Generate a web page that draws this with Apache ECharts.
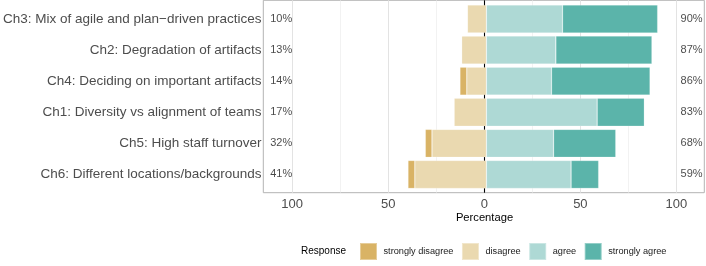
<!DOCTYPE html>
<html>
<head>
<meta charset="utf-8">
<script src="https://cdn.jsdelivr.net/npm/echarts@6/dist/echarts.min.js"></script>
<style>html,body{margin:0;padding:0;background:#fff;}#c{width:706px;height:266px;}</style>
</head>
<body>
<div id="c"></div>
<script>
const categories = [
  'Ch3: Mix of agile and plan\u2212driven practices',
  'Ch2: Degradation of artifacts',
  'Ch4: Deciding on important artifacts',
  'Ch1: Diversity vs alignment of teams',
  'Ch5: High staff turnover',
  'Ch6: Different locations/backgrounds'
];
const stronglyDisagree = [0, 0, 3.6, 0, 3.5, 3.6];
const disagree = [10, 13, 10.3, 17, 28.6, 37.6];
const agree = [40, 36.5, 34.2, 58.2, 35.3, 44.5];
const stronglyAgree = [50, 50.5, 51.8, 24.8, 32.7, 14.5];
const leftPct = ['10%', '13%', '14%', '17%', '32%', '41%'];
const rightPct = ['90%', '87%', '86%', '83%', '68%', '59%'];
const xTickLabels = [-100, -50, 0, 50, 100];
const xMinorTicks = [-75, -25, 25, 75];
const legendNames = ['strongly disagree', 'disagree', 'agree', 'strongly agree'];

const colors = {
  'strongly disagree': '#d9b365',
  'disagree': '#ead9b0',
  'agree': '#aed9d5',
  'strongly agree': '#5bb4aa'
};
const FONT = 'Liberation Sans, Arial, Helvetica, sans-serif';
const XMIN = -115, XMAX = 114.5;
const LEFT = 263.3, WIDTH = 441;

const chart = echarts.init(document.getElementById('c'), null, {renderer: 'canvas'});

function barSeries(name, vals, sign) {
  return {
    name: name, type: 'bar', stack: 'total', xAxisIndex: 1, yAxisIndex: 1,
    barWidth: '90%', z: 5,
    itemStyle: {color: colors[name], borderColor: 'rgba(255,255,255,0.35)', borderWidth: 0.6},
    emphasis: {disabled: true},
    data: vals.map(v => sign * v)
  };
}

const option = {
  animation: false,
  textStyle: {fontFamily: FONT},
  grid: [
    {left: LEFT, top: 0.3, width: WIDTH, height: 192.4, show: true, borderColor: '#b3b3b3', borderWidth: 1, backgroundColor: 'transparent', z: 0},
    {left: LEFT, top: 3.4, width: WIDTH, height: 186.6}
  ],
  xAxis: [
    {type: 'value', gridIndex: 0, min: XMIN, max: XMAX,
     axisLine: {show: false}, axisTick: {show: false}, splitLine: {show: false},
     axisLabel: {show: true, customValues: xTickLabels, margin: 5, fontSize: 13, color: '#4d4d4d', fontFamily: FONT,
       formatter: v => String(Math.abs(v))}},
    {type: 'value', gridIndex: 1, min: XMIN, max: XMAX, show: false}
  ],
  yAxis: [
    {type: 'value', gridIndex: 0, min: 0, max: 1, show: false},
    {type: 'category', gridIndex: 1, data: categories, inverse: true,
     axisLine: {show: false}, axisTick: {show: false}, splitLine: {show: false},
     axisLabel: {margin: 6, fontSize: 13.5, color: '#4d4d4d', fontFamily: FONT}}
  ],
  legend: {
    data: legendNames, left: 359, top: 242, orient: 'horizontal', padding: 0,
    itemWidth: 17, itemHeight: 17, itemGap: 7.5, icon: 'rect',
    textStyle: {fontSize: 9.2, color: '#1a1a1a', fontFamily: FONT, padding: [0, 0, 0, 1.5]},
    selectedMode: false
  },
  graphic: [
    {type: 'text', x: 484.5, y: 218.3, style: {text: 'Percentage', fontSize: 11.2, fill: '#000', fontFamily: FONT, align: 'center', verticalAlign: 'middle'}},
    {type: 'text', x: 301, y: 251, style: {text: 'Response', fontSize: 10, fill: '#000', fontFamily: FONT, align: 'left', verticalAlign: 'middle'}}
  ],
  series: [
    {type: 'line', xAxisIndex: 0, yAxisIndex: 0, data: [[0, -5]], showSymbol: false, silent: true, z: 1,
     markLine: {silent: true, symbol: 'none', animation: false, label: {show: false}, z: 1,
       data: [
         ...xMinorTicks.map(v => ({xAxis: v, lineStyle: {color: '#ececec', width: 0.7, type: 'solid'}})),
         ...xTickLabels.filter(v => v !== 0).map(v => ({xAxis: v, lineStyle: {color: '#e3e3e3', width: 1, type: 'solid'}}))
       ]}},
    {type: 'line', xAxisIndex: 0, yAxisIndex: 0, data: [[0, -5]], showSymbol: false, silent: true, z: 2,
     markLine: {silent: true, symbol: 'none', animation: false, label: {show: false}, z: 2,
       data: [{xAxis: 0, lineStyle: {color: '#000', width: 1.1, type: 'solid'}}]}},
    barSeries('disagree', disagree, -1),
    barSeries('strongly disagree', stronglyDisagree, -1),
    barSeries('agree', agree, 1),
    barSeries('strongly agree', stronglyAgree, 1),
    {type: 'scatter', xAxisIndex: 1, yAxisIndex: 1, symbolSize: 0, z: 6, silent: true,
     data: leftPct.map((t, i) => [-113.6, categories[i]]),
     label: {show: true, position: 'right', distance: 0, fontSize: 11, color: '#1a1a1a', fontFamily: FONT,
       formatter: p => leftPct[p.dataIndex]}},
    {type: 'scatter', xAxisIndex: 1, yAxisIndex: 1, symbolSize: 0, z: 6, silent: true,
     data: rightPct.map((t, i) => [113.6, categories[i]]),
     label: {show: true, position: 'left', distance: 0, fontSize: 11, color: '#1a1a1a', fontFamily: FONT,
       formatter: p => rightPct[p.dataIndex]}}
  ]
};
chart.setOption(option);
</script>
</body>
</html>
